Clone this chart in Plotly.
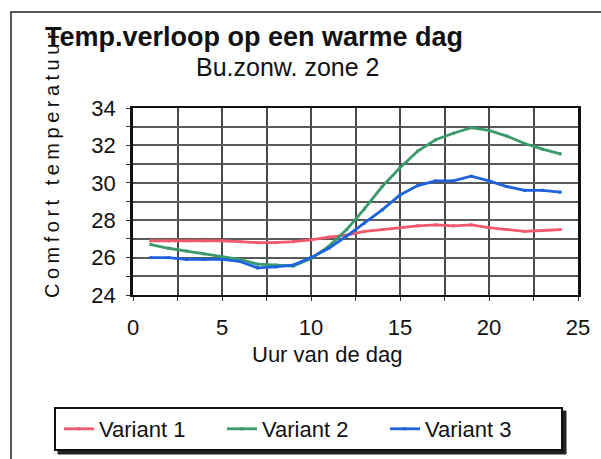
import plotly.graph_objects as go

hours = list(range(1, 25))
variant1 = [26.9, 26.9, 26.9, 26.9, 26.9, 26.85, 26.8, 26.8, 26.85, 26.95, 27.1, 27.2,
            27.4, 27.5, 27.6, 27.7, 27.75, 27.7, 27.75, 27.6, 27.5, 27.4, 27.45, 27.5]
variant2 = [26.7, 26.5, 26.35, 26.2, 26.05, 25.9, 25.65, 25.6, 25.55, 25.95, 26.6, 27.5,
            28.6, 29.8, 30.8, 31.7, 32.3, 32.65, 32.95, 32.8, 32.5, 32.1, 31.8, 31.55]
variant3 = [26.0, 26.0, 25.9, 25.9, 25.9, 25.8, 25.45, 25.5, 25.6, 26.0, 26.5, 27.15,
            27.85, 28.55, 29.35, 29.85, 30.1, 30.1, 30.35, 30.1, 29.8, 29.6, 29.6, 29.5]
series_names = ["Variant 1", "Variant 2", "Variant 3"]
colors = ["#F05A6C", "#3A9A6C", "#1E62DE"]

W, H = 601, 459
L, R, T, B = 133, 23, 108, 164
PW, PH = W - L - R, H - T - B


def px(x):
    return (x - L) / PW


def py(y):
    return (H - B - y) / PH


fig = go.Figure()
for name, vals, c in zip(series_names, [variant1, variant2, variant3], colors):
    fig.add_trace(go.Scatter(x=hours, y=vals, name=name, mode="lines+markers",
                             line=dict(color=c, width=2.8),
                             marker=dict(symbol="square", size=3, color=c)))

font = "Liberation Sans, Arial, sans-serif"
grid = "#4a4a4a"
fig.update_layout(
    width=W, height=H,
    margin=dict(l=L, r=R, t=T, b=B, autoexpand=False),
    paper_bgcolor="white", plot_bgcolor="white",
    font=dict(family=font, size=22, color="#111"),
    showlegend=True,
    legend=dict(orientation="h", x=px(59), y=py(408), xanchor="left", yanchor="top",
                bgcolor="rgba(0,0,0,0)", borderwidth=0, font=dict(size=22),
                entrywidth=118, entrywidthmode="pixels", itemwidth=30),
    xaxis=dict(range=[0, 25], dtick=5, tick0=0, showgrid=True, gridcolor=grid, gridwidth=2,
               minor=dict(dtick=2.5, showgrid=True, gridcolor=grid, gridwidth=2,
                          ticks="outside", ticklen=4, tickcolor="#333"),
               ticks="outside", ticklen=4, tickcolor="#333", showline=True, linecolor="#111",
               linewidth=2, mirror=True, zeroline=False, ticklabelstandoff=8),
    yaxis=dict(range=[24, 34], dtick=2, tick0=24, showgrid=True, gridcolor="#5a5a5a", gridwidth=2,
               minor=dict(dtick=1, showgrid=True, gridcolor="#5a5a5a", gridwidth=2,
                          ticks="outside", ticklen=4, tickcolor="#333"),
               ticks="outside", ticklen=4, tickcolor="#333", showline=True, linecolor="#111",
               linewidth=2.5, mirror=True, zeroline=False, ticklabelstandoff=6),
)

shapes = [
    # outer chart border
    dict(type="rect", xref="paper", yref="paper", x0=px(11), y0=py(520), x1=px(700), y1=py(12),
         line=dict(color="#222", width=1.5), fillcolor="rgba(0,0,0,0)", layer="below"),
    # legend shadow
    dict(type="rect", xref="paper", yref="paper", x0=px(58), y0=py(454), x1=px(566), y1=py(411),
         line=dict(color="#222", width=1), fillcolor="#222", layer="above"),
    # legend box
    dict(type="rect", xref="paper", yref="paper", x0=px(55), y0=py(450), x1=px(562), y1=py(408),
         line=dict(color="#111", width=2), fillcolor="white", layer="above"),
]
fig.update_layout(shapes=shapes)

fig.add_annotation(text='<span style="letter-spacing:4.5px">Comfort temperatuur</span>',
                   xref="paper", yref="paper", x=px(52), y=py(163), textangle=-90,
                   xanchor="center", yanchor="middle",
                   showarrow=False, font=dict(size=20, family=font))
fig.add_annotation(text="<b>Temp.verloop op een warme dag</b>", xref="paper", yref="paper",
                   x=px(254), y=py(37), xanchor="center", yanchor="middle",
                   showarrow=False, font=dict(size=27, family=font))
fig.add_annotation(text="Bu.zonw. zone 2", xref="paper", yref="paper",
                   x=px(287), y=py(67), xanchor="center", yanchor="middle",
                   showarrow=False, font=dict(size=25, family=font))
fig.add_annotation(text="Uur van de dag", xref="paper", yref="paper",
                   x=px(327), y=py(354), xanchor="center", yanchor="middle",
                   showarrow=False, font=dict(size=22, family=font))

fig.write_html("out.html")
